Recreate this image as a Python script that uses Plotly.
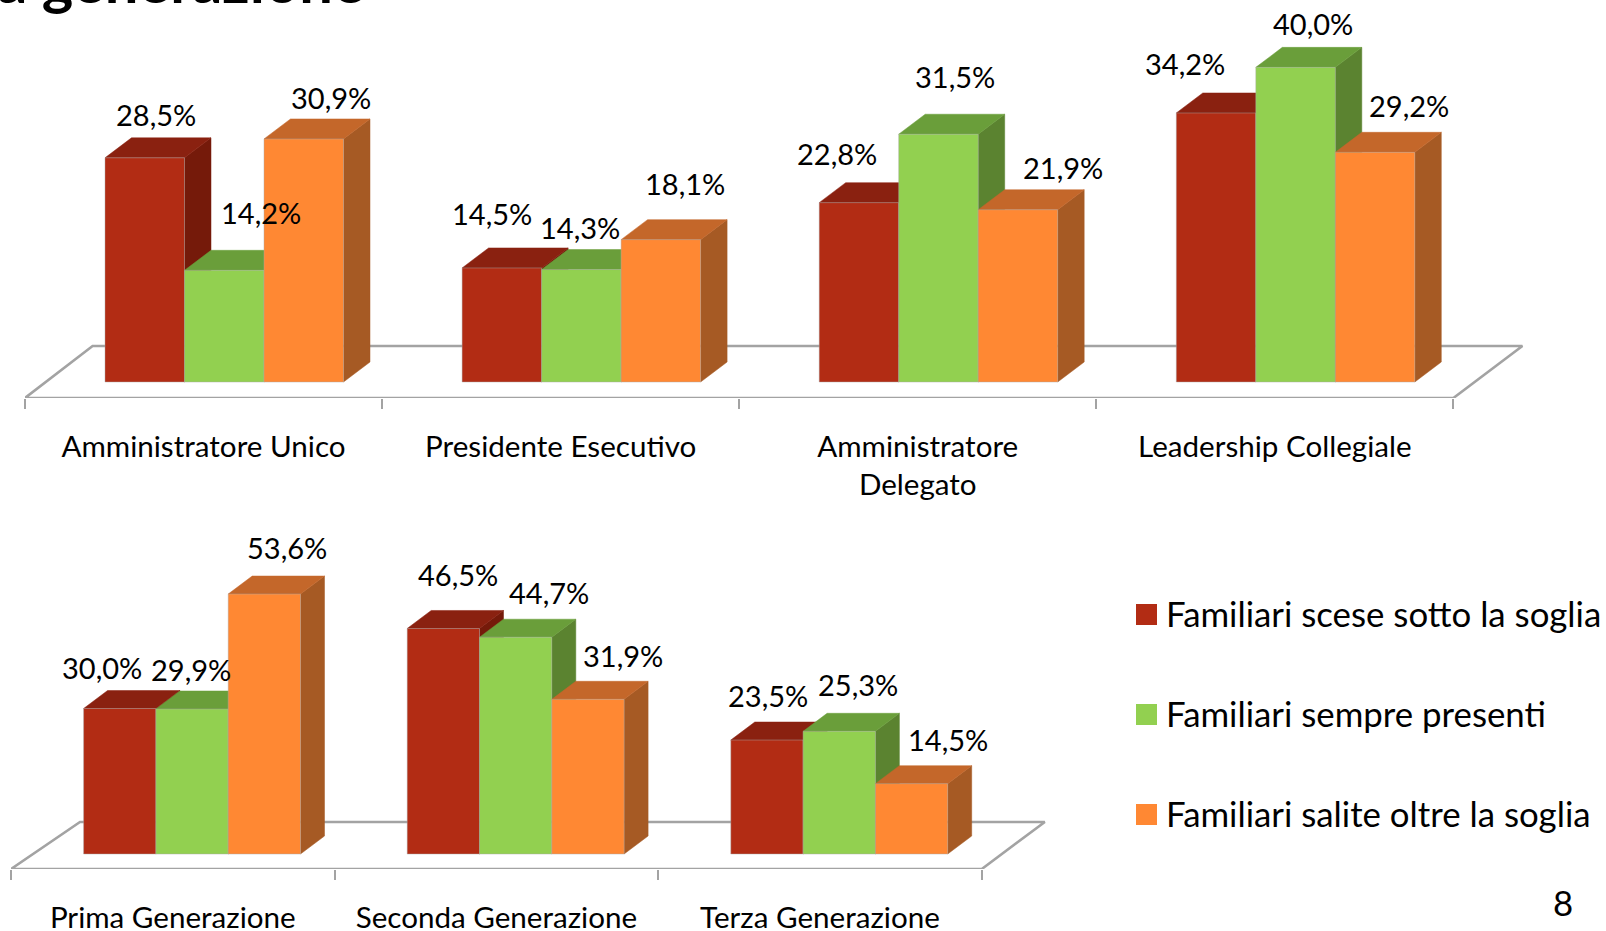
import plotly.graph_objects as go

# ---------- data ----------
SERIES = ["Familiari scese sotto la soglia", "Familiari sempre presenti", "Familiari salite oltre la soglia"]
TOP_CATEGORIES = ["Amministratore Unico", "Presidente Esecutivo", "Amministratore<br>Delegato", "Leadership Collegiale"]
TOP_SCESE = [28.5, 14.5, 22.8, 34.2]
TOP_SEMPRE = [14.2, 14.3, 31.5, 40.0]
TOP_SALITE = [30.9, 18.1, 21.9, 29.2]
BOTTOM_CATEGORIES = ["Prima Generazione", "Seconda Generazione", "Terza Generazione"]
BOTTOM_SCESE = [30.0, 46.5, 23.5]
BOTTOM_SEMPRE = [29.9, 44.7, 25.3]
BOTTOM_SALITE = [53.6, 31.9, 14.5]
TITLE_TEXT = "a generazione"
PAGE_NUMBER = "8"

# ---------- style ----------
W, H = 1606, 931
FONT = "Lato"
TEXT = "#000000"
GRID = "#a3a3a3"
FRONT = ["#B22C14", "#92D050", "#FF8833"]
TOPF = ["#8A2110", "#6A9E3A", "#C4672A"]
SIDE = ["#751A0A", "#5B8330", "#A65A24"]
LABEL_SIZE = 29
TICK_SIZE = 29.6
LEGEND_SIZE = 34.8

# px offsets of each data label from the bar's front-top-centre (hand placed in the original)
TOP_NUDGE = [[(11, 43.5), (37, 57.5), (27, 41.5)], [(-10, 54.5), (-1, 42.5), (24, 56.5)],
             [(-22, 49.5), (17, 57.5), (45, 42)], [(-31, 49.5), (17, 44), (34, 46.5)]]
BOTTOM_NUDGE = [[(-18, 41.5), (-1, 39.5), (23, 46.5)], [(15, 54), (33, 44.5), (35, 44)],
                [(1, 45), (19, 46.5), (36, 44.5)]]

fig = go.Figure()
annotations = []


def panel(axis_suffix, cats, values, nudges, g):
    xa, ya = "x" + axis_suffix, "y" + axis_suffix
    ux, uy = g["ux"], g["uy"]
    n = len(cats)
    dx, dy = g["dx"] / ux, g["dy"] / uy
    bw = g["bw"] / ux
    start = g["start"] / ux
    fy = -(g["floor_front"] - g["base"]) / uy
    by = (g["base"] - g["floor_back"]) / uy
    fb_l, fb_r = g["back_dx_l"] / ux, n + g["back_dx_r"] / ux
    fig.add_trace(go.Scatter(
        x=[0, n, fb_r, fb_l, 0], y=[fy, fy, by, by, fy], mode="lines", xaxis=xa, yaxis=ya,
        line=dict(color=GRID, width=2.6), showlegend=False, hoverinfo="skip", zorder=-1))
    for s, vals in enumerate(values):
        lefts = [i + start + s * bw for i in range(n)]
        sx, sy, tx, ty = [], [], [], []
        for l, v in zip(lefts, vals):
            r = l + bw
            sx += [r, r + dx, r + dx, r, r, None]
            sy += [0, dy, v + dy, v, 0, None]
            tx += [l, r, r + dx, l + dx, l, None]
            ty += [v, v, v + dy, v + dy, v, None]
        fig.add_trace(go.Scatter(x=sx, y=sy, mode="lines", fill="toself", fillcolor=SIDE[s],
                                 line=dict(color=SIDE[s], width=0.5), xaxis=xa, yaxis=ya,
                                 showlegend=False, hoverinfo="skip", zorder=3 * s))
        fig.add_trace(go.Scatter(x=tx, y=ty, mode="lines", fill="toself", fillcolor=TOPF[s],
                                 line=dict(color=TOPF[s], width=0.5), xaxis=xa, yaxis=ya,
                                 showlegend=False, hoverinfo="skip", zorder=3 * s))
        fig.add_trace(go.Bar(x=[l + bw / 2 for l in lefts], y=vals, width=bw, name=SERIES[s],
                             marker=dict(color=FRONT[s], line=dict(color="rgba(170,170,170,0.45)", width=1)),
                             xaxis=xa, yaxis=ya, showlegend=False, zorder=3 * s + 1))
        for i, v in enumerate(vals):
            ndx, ndy = nudges[i][s]
            annotations.append(dict(
                x=lefts[i] + bw / 2, y=v, xref=xa, yref=ya, text=f"{v:.1f}%".replace(".", ","),
                showarrow=False, xanchor="center", yanchor="middle", xshift=ndx, yshift=ndy,
                font=dict(family=FONT, size=LABEL_SIZE, color=TEXT)))
    x_left, x_right = g["x_left"], g["x_right"]
    top_px = g["top_px"]
    axis_x = dict(
        domain=[x_left / W, x_right / W], range=[0, (x_right - x_left) / ux],
        tickmode="array", tickvals=[i + 0.5 for i in range(n)], ticktext=cats, automargin=False,
        ticks="outside", ticklen=g["label_gap"], tickcolor="rgba(0,0,0,0)", tickwidth=1,
        tickfont=dict(family=FONT, size=TICK_SIZE, color=TEXT), tickangle=0,
        showgrid=False, zeroline=False, showline=False, fixedrange=True,
        minor=dict(tickmode="array", tickvals=list(range(n + 1)), ticks="outside", ticklen=10,
                   tickwidth=2, tickcolor=GRID, showgrid=False),
        anchor=ya)
    axis_y = dict(
        domain=[1 - g["floor_front"] / H, 1 - top_px / H], automargin=False,
        range=[fy, (g["base"] - top_px) / uy], visible=False, fixedrange=True, anchor=xa)
    return axis_x, axis_y


top_g = dict(ux=357.1, uy=7.866, base=382, floor_front=398, floor_back=346, dx=26.5, dy=20,
             bw=79.5, start=80, back_dx_l=67.6, back_dx_r=69, x_left=25, x_right=1560, top_px=0,
             label_gap=22)
bot_g = dict(ux=323.6, uy=4.85, base=854, floor_front=869, floor_back=822, dx=24, dy=18,
             bw=72.3, start=72.6, back_dx_l=69, back_dx_r=63, x_left=11, x_right=1090, top_px=480,
             label_gap=22)
ax1, ay1 = panel("", TOP_CATEGORIES, [TOP_SCESE, TOP_SEMPRE, TOP_SALITE], TOP_NUDGE, top_g)
ax2, ay2 = panel("2", BOTTOM_CATEGORIES, [BOTTOM_SCESE, BOTTOM_SEMPRE, BOTTOM_SALITE], BOTTOM_NUDGE, bot_g)

shapes = []
for s, name in enumerate(SERIES):
    yc = 614.5 + s * 100
    shapes.append(dict(type="rect", xref="paper", yref="paper", x0=1136 / W, x1=1157 / W,
                       y0=1 - (yc + 10.5) / H, y1=1 - (yc - 10.5) / H,
                       fillcolor=FRONT[s], line=dict(width=0)))
    annotations.append(dict(x=1164 / W, y=1 - (yc - 1) / H, xref="paper", yref="paper", text=name,
                            showarrow=False, xanchor="left", yanchor="middle",
                            font=dict(family=FONT, size=LEGEND_SIZE, color=TEXT)))
annotations.append(dict(x=1563 / W, y=1 - 902 / H, xref="paper", yref="paper", text=PAGE_NUMBER,
                        showarrow=False, xanchor="center", yanchor="middle",
                        font=dict(family=FONT, size=LEGEND_SIZE, color=TEXT)))
annotations.append(dict(x=367 / W, y=1 - 18 / H, xref="paper", yref="paper", text=f"<b>{TITLE_TEXT}</b>",
                        showarrow=False, xanchor="right", yanchor="bottom",
                        font=dict(family=FONT, size=59.7, color=TEXT)))

fig.update_layout(
    width=W, height=H, margin=dict(l=0, r=0, t=0, b=0, pad=0), paper_bgcolor="white", plot_bgcolor="white",
    barmode="overlay", showlegend=False, xaxis=ax1, yaxis=ay1, xaxis2=ax2, yaxis2=ay2,
    shapes=shapes, annotations=annotations)
fig.write_html("out.html", config={"displayModeBar": False},
               post_script="document.body.style.margin='0';document.body.style.overflow='hidden';")
